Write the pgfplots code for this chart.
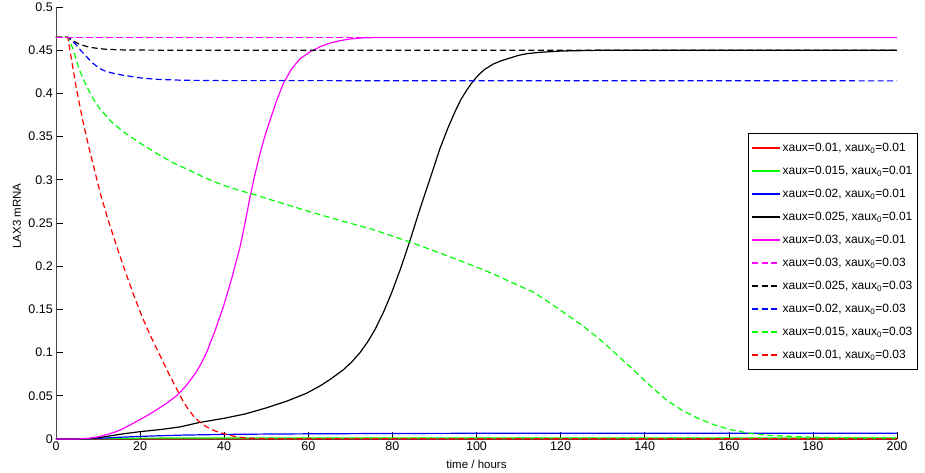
\documentclass[border=0pt]{standalone}
\usepackage{fontspec}
\setmainfont{Liberation Sans}
\usepackage{pgfplots}
\pgfplotsset{compat=1.18}
\definecolor{mred}{RGB}{255,0,0}
\definecolor{mgreen}{RGB}{0,255,0}
\definecolor{mblue}{RGB}{0,0,255}
\definecolor{mmag}{RGB}{255,0,255}
\begin{document}
\begin{tikzpicture}
\begin{axis}[
  at={(0pt,0pt)}, anchor=south west,
  scale only axis, width=841pt, height=432pt,
  xmin=0, xmax=200, ymin=0, ymax=0.5,
  axis x line=bottom, axis y line=left,
  axis line style={-, black!70, line width=0.6pt},
  tick style={black, line width=0.6pt},
  tick align=inside, major tick length=7pt,
  xtick={0,20,...,200},
  ytick={0,0.05,0.1,0.15,0.2,0.25,0.3,0.35,0.4,0.45,0.5},
  scaled y ticks=false,
  /pgf/number format/assume math mode=true,
  yticklabel style={/pgf/number format/fixed, /pgf/number format/precision=2, inner sep=3pt},
  ticklabel style={font=\fontsize{12.5}{14}\selectfont},
  xticklabel style={inner sep=3pt},
  xlabel={time / hours}, ylabel={LAX3 mRNA},
  label style={font=\fontsize{11.5}{13}\selectfont},
  xlabel style={at={(axis description cs:0.5,-0.058)}, anchor=center},
  ylabel style={at={(axis description cs:-0.0464,0.516)}, anchor=center},
  clip=false,
  every axis plot/.append style={line width=1.2pt},
  legend image code/.code={\draw[#1] (0pt,0pt) -- (28pt,0pt);},
  legend cell align=left,
  legend style={at={(axis description cs:0.823,0.708)}, anchor=north west,
    draw=black, line width=0.6pt, fill=white, font=\fontsize{12}{14}\selectfont,
    row sep=0pt, inner xsep=3pt, inner ysep=3pt,
    nodes={inner ysep=0pt, inner xsep=2pt, text height=15pt, text depth=8pt}},
  legend columns=1,
]
\pgfplotsset{dsh/.style={dash pattern=on 6pt off 3.5pt}}
% legend entries
\addlegendimage{mred, line width=1.2pt}
\addlegendentry{xaux=0.01, xaux\textsubscript{0}=0.01}
\addlegendimage{mgreen, line width=1.2pt}
\addlegendentry{xaux=0.015, xaux\textsubscript{0}=0.01}
\addlegendimage{mblue, line width=1.2pt}
\addlegendentry{xaux=0.02, xaux\textsubscript{0}=0.01}
\addlegendimage{black, line width=1.2pt}
\addlegendentry{xaux=0.025, xaux\textsubscript{0}=0.01}
\addlegendimage{mmag, line width=1.2pt}
\addlegendentry{xaux=0.03, xaux\textsubscript{0}=0.01}
\addlegendimage{mmag, dsh, line width=1.2pt}
\addlegendentry{xaux=0.03, xaux\textsubscript{0}=0.03}
\addlegendimage{black, dsh, line width=1.2pt}
\addlegendentry{xaux=0.025, xaux\textsubscript{0}=0.03}
\addlegendimage{mblue, dsh, line width=1.2pt}
\addlegendentry{xaux=0.02, xaux\textsubscript{0}=0.03}
\addlegendimage{mgreen, dsh, line width=1.2pt}
\addlegendentry{xaux=0.015, xaux\textsubscript{0}=0.03}
\addlegendimage{mred, dsh, line width=1.2pt}
\addlegendentry{xaux=0.01, xaux\textsubscript{0}=0.03}
% solid
\addplot[mred, forget plot] coordinates {(0,0) (10,0.0003) (20,0.0004) (200,0.0004)};
\addplot[mgreen, forget plot] coordinates {(0,0) (10,0.0005) (20,0.001) (40,0.0012) (200,0.0012)};
\addplot[mblue, forget plot] coordinates {(0,0) (8,0.0003) (12,0.0012) (15,0.002) (20,0.003) (25,0.0038) (30,0.0045) (40,0.0053) (50,0.0057) (60,0.006) (80,0.0064) (100,0.0066) (200,0.0067)};
\addplot[black, forget plot] coordinates {(0,0) (5,0) (8,0.0005) (10,0.0015) (12,0.003) (16,0.006) (20,0.0085) (25,0.011) (29.5,0.014) (34,0.019) (40,0.024) (45,0.029) (50,0.036) (55,0.044) (59.6,0.053) (63,0.062) (65.2,0.069) (68.3,0.080) (70.3,0.089) (72.3,0.100) (74.2,0.113) (75.9,0.127) (77.9,0.147) (79.8,0.169) (82,0.198) (84.2,0.230) (86.6,0.267) (89,0.302) (91.3,0.336) (93.2,0.360) (94.9,0.379) (96.3,0.393) (97.7,0.404) (99,0.413) (100.4,0.421) (102,0.428) (104,0.434) (106,0.438) (108,0.441) (110,0.444) (112,0.446) (115,0.4475) (120,0.449) (130,0.450) (200,0.450)};
\addplot[mmag, forget plot] coordinates {(0,0) (5,0) (8,0.001) (10,0.0025) (12,0.005) (14,0.008) (16,0.012) (19.8,0.022) (22,0.028) (24,0.034) (26.5,0.042) (28.9,0.051) (31,0.062) (33.3,0.077) (34.6,0.088) (35.8,0.100) (37.8,0.125) (39.8,0.153) (41.8,0.186) (43.8,0.223) (45,0.251) (46.1,0.279) (47.3,0.306) (48.5,0.330) (49.7,0.351) (50.9,0.369) (52.5,0.392) (54.1,0.412) (56,0.428) (58,0.440) (60.4,0.448) (62.8,0.454) (65,0.458) (67.5,0.461) (70,0.463) (73,0.4643) (77,0.4647) (200,0.4647)};
% dashed
\addplot[black, dsh, forget plot] coordinates {(0,0.465) (2.8,0.465) (4,0.461) (5.5,0.457) (7.9,0.4535) (10,0.452) (12,0.451) (15.9,0.4503) (25,0.450) (200,0.450)};
\addplot[mblue, dsh, forget plot] coordinates {(0,0.465) (2.8,0.465) (3.8,0.461) (4.8,0.456) (6,0.449) (7,0.444) (8.5,0.436) (10.3,0.429) (11.6,0.426) (13,0.424) (15.9,0.421) (20,0.418) (23.8,0.4163) (30,0.4152) (40,0.4148) (200,0.4145)};
\addplot[mgreen, dsh, forget plot] coordinates {(0,0.465) (2.8,0.465) (4,0.452) (5.5,0.428) (7.1,0.41) (8.7,0.395) (10.3,0.383) (13,0.368) (15.9,0.356) (19.8,0.343) (23.8,0.331) (27.7,0.320) (31.7,0.311) (35.6,0.302) (39.6,0.294) (43.4,0.288) (47.1,0.283) (51,0.277) (55,0.271) (60.4,0.263) (67.5,0.253) (75,0.243) (84.2,0.228) (92,0.214) (100,0.199) (104,0.191) (108,0.182) (113.5,0.170) (117,0.159) (120.6,0.147) (125,0.132) (129.4,0.115) (133.3,0.098) (137.3,0.080) (141.2,0.062) (145.2,0.045) (149,0.033) (153.1,0.023) (156.7,0.016) (160.3,0.011) (165,0.0065) (170,0.004) (180,0.002) (190,0.0012) (200,0.001)};
\addplot[mred, dsh, forget plot] coordinates {(0,0.465) (2.8,0.465) (4.76,0.408) (6.3,0.370) (7.9,0.336) (10.5,0.285) (12.3,0.255) (14.5,0.222) (16.6,0.192) (18.6,0.165) (20.6,0.140) (22.6,0.118) (24.6,0.098) (26.8,0.076) (28.9,0.056) (30.2,0.044) (31.5,0.034) (32.8,0.026) (34.1,0.020) (35.5,0.015) (37,0.011) (38.3,0.0085) (39.6,0.0066) (42,0.0035) (44,0.0018) (45.9,0.001) (50,0.0005) (60,0.0003) (200,0.0003)};
\addplot[mmag, dash pattern=on 7pt off 3pt, line width=1.4pt, forget plot] coordinates {(0,0.4647) (200,0.4647)};
\end{axis}
\pgfresetboundingbox
\useasboundingbox (-56pt,-34pt) rectangle (869pt,439pt);
\end{tikzpicture}
\end{document}
